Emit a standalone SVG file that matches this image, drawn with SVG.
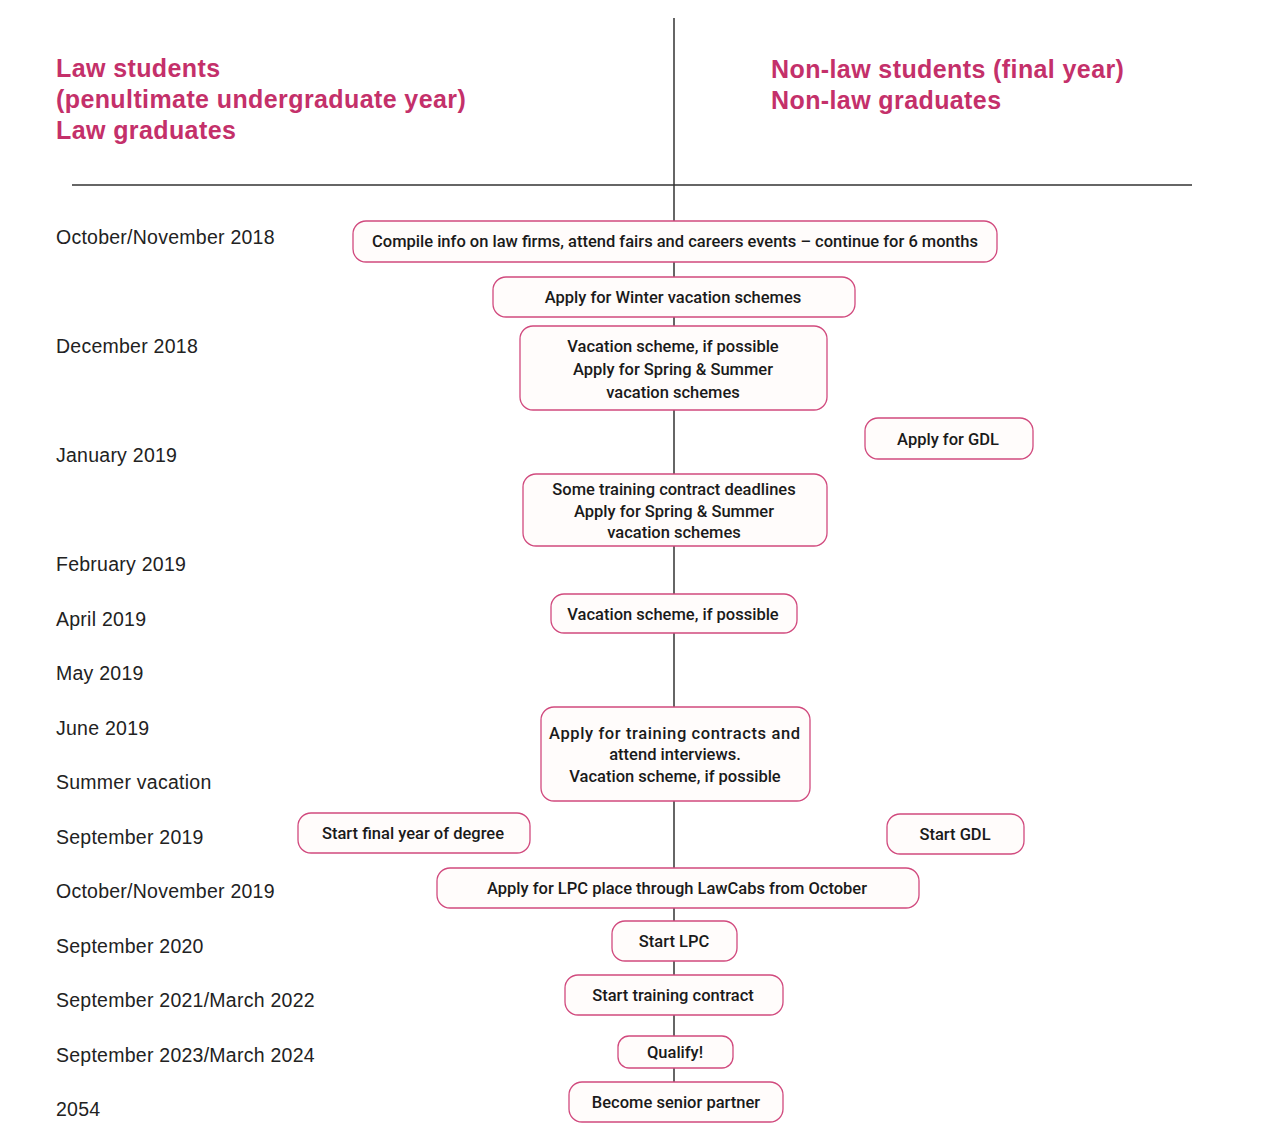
<svg xmlns="http://www.w3.org/2000/svg" width="1271" height="1146" viewBox="0 0 1271 1146">
<style>
.hdr{font-family:"Liberation Sans",Arial,sans-serif;font-weight:bold;font-size:25px;letter-spacing:0.4px;fill:#c4306a}
.lbl{font-family:"Liberation Sans",Arial,sans-serif;font-size:19.5px;letter-spacing:0.25px;fill:#222}
.box{fill:#fffcfb;stroke:#d14a7e;stroke-width:1.3}
.bt{font-family:Roboto,"Liberation Sans",Arial,sans-serif;font-weight:500;font-size:16.5px;fill:#1a1a1a;text-anchor:middle}
.ln{stroke:#333;stroke-width:1.5;fill:none}
</style>
<rect width="1271" height="1146" fill="#fff"/>
<g id="headers">
<text class="hdr" x="56" y="77">Law students</text>
<text class="hdr" x="56" y="108">(penultimate undergraduate year)</text>
<text class="hdr" x="56" y="139">Law graduates</text>
<text class="hdr" x="771" y="78">Non-law students (final year)</text>
<text class="hdr" x="771" y="109">Non-law graduates</text>
</g>
<g id="dividers">
<line class="ln" x1="72" y1="185" x2="1192" y2="185"/>
</g>
<g id="dates">
<text class="lbl" x="56" y="244">October/November 2018</text>
<text class="lbl" x="56" y="353">December 2018</text>
<text class="lbl" x="56" y="462">January 2019</text>
<text class="lbl" x="56" y="571">February 2019</text>
<text class="lbl" x="56" y="626">April 2019</text>
<text class="lbl" x="56" y="680">May 2019</text>
<text class="lbl" x="56" y="735">June 2019</text>
<text class="lbl" x="56" y="789">Summer vacation</text>
<text class="lbl" x="56" y="844">September 2019</text>
<text class="lbl" x="56" y="898">October/November 2019</text>
<text class="lbl" x="56" y="953">September 2020</text>
<text class="lbl" x="56" y="1007">September 2021/March 2022</text>
<text class="lbl" x="56" y="1062">September 2023/March 2024</text>
<text class="lbl" x="56" y="1116">2054</text>
</g>
<g id="connectors">
<line class="ln" x1="674" y1="18" x2="674" y2="221"/>
<line class="ln" x1="674" y1="262" x2="674" y2="277"/>
<line class="ln" x1="674" y1="317" x2="674" y2="326"/>
<line class="ln" x1="674" y1="410" x2="674" y2="474"/>
<line class="ln" x1="674" y1="546" x2="674" y2="594"/>
<line class="ln" x1="674" y1="633" x2="674" y2="707"/>
<line class="ln" x1="674" y1="801" x2="674" y2="868"/>
<line class="ln" x1="674" y1="908" x2="674" y2="921"/>
<line class="ln" x1="674" y1="961" x2="674" y2="975"/>
<line class="ln" x1="674" y1="1015" x2="674" y2="1036"/>
<line class="ln" x1="674" y1="1068" x2="674" y2="1082"/>
</g>
<g id="n1"><rect class="box" x="353" y="221" width="644" height="41" rx="13"/><text class="bt" x="675" y="247">Compile info on law firms, attend fairs and careers events – continue for 6 months</text></g>
<g id="n2"><rect class="box" x="493" y="277" width="362" height="40" rx="13"/><text class="bt" x="673" y="303">Apply for Winter vacation schemes</text></g>
<g id="n3"><rect class="box" x="520" y="326" width="307" height="84" rx="13"/><text class="bt" x="673" y="352">Vacation scheme, if possible</text><text class="bt" x="673" y="375">Apply for Spring &amp; Summer</text><text class="bt" x="673" y="398">vacation schemes</text></g>
<g id="n4"><rect class="box" x="865" y="418" width="168" height="41" rx="13"/><text class="bt" x="948" y="445">Apply for GDL</text></g>
<g id="n5"><rect class="box" x="523" y="474" width="304" height="72" rx="13"/><text class="bt" x="674" y="495">Some training contract deadlines</text><text class="bt" x="674" y="517">Apply for Spring &amp; Summer</text><text class="bt" x="674" y="538">vacation schemes</text></g>
<g id="n6"><rect class="box" x="551" y="594" width="246" height="39" rx="13"/><text class="bt" x="673" y="620">Vacation scheme, if possible</text></g>
<g id="n7"><rect class="box" x="541" y="707" width="269" height="94" rx="13"/><text class="bt" x="549" y="739" style="text-anchor:start" textLength="251" lengthAdjust="spacing">Apply for training contracts and</text><text class="bt" x="675" y="760">attend interviews.</text><text class="bt" x="675" y="782">Vacation scheme, if possible</text></g>
<g id="n8"><rect class="box" x="298" y="813" width="232" height="40" rx="13"/><text class="bt" x="413" y="839">Start final year of degree</text></g>
<g id="n9"><rect class="box" x="887" y="814" width="137" height="40" rx="13"/><text class="bt" x="955" y="840">Start GDL</text></g>
<g id="n10"><rect class="box" x="437" y="868" width="482" height="40" rx="13"/><text class="bt" x="677" y="894">Apply for LPC place through LawCabs from October</text></g>
<g id="n11"><rect class="box" x="612" y="921" width="125" height="40" rx="13"/><text class="bt" x="674" y="947">Start LPC</text></g>
<g id="n12"><rect class="box" x="565" y="975" width="218" height="40" rx="13"/><text class="bt" x="673" y="1001">Start training contract</text></g>
<g id="n13"><rect class="box" x="618" y="1036" width="115" height="32" rx="11"/><text class="bt" x="675" y="1058">Qualify!</text></g>
<g id="n14"><rect class="box" x="569" y="1082" width="214" height="40" rx="13"/><text class="bt" x="676" y="1108">Become senior partner</text></g>
</svg>
